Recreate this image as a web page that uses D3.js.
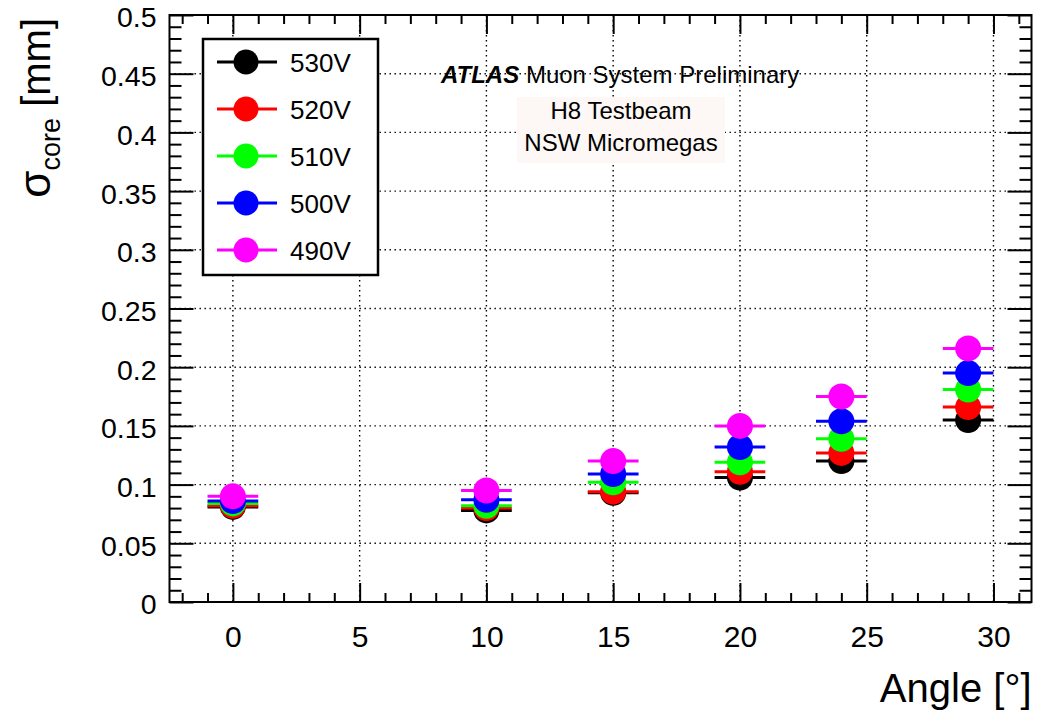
<!DOCTYPE html>
<html>
<head>
<meta charset="utf-8">
<script src="https://cdn.jsdelivr.net/npm/d3@7"></script>
<style>
  html, body { margin: 0; padding: 0; background: #fff; }
  svg { display: block; }
  text { font-family: "Liberation Sans", Arial, Helvetica, sans-serif; }
</style>
</head>
<body>
<svg id="chart" width="1039" height="712"></svg>
<script>
// ---------------- data ----------------
const angles = [0, 10, 15, 20, 24, 29];
const angleErr = [1, 1, 1, 1, 1, 1];
const seriesNames = ["530V", "520V", "510V", "500V", "490V"];
const seriesColors = ["#000000", "#ff0000", "#00ff00", "#0000ff", "#ff00ff"];
const sigma530 = [0.081, 0.078, 0.093, 0.106, 0.120, 0.155];
const sigma520 = [0.082, 0.080, 0.094, 0.111, 0.127, 0.166];
const sigma510 = [0.084, 0.082, 0.102, 0.119, 0.139, 0.181];
const sigma500 = [0.086, 0.087, 0.109, 0.132, 0.154, 0.195];
const sigma490 = [0.090, 0.095, 0.120, 0.150, 0.175, 0.216];
const seriesValues = [sigma530, sigma520, sigma510, sigma500, sigma490];

const xMajorTicks = [0, 5, 10, 15, 20, 25, 30];
const xTickLabels = ["0", "5", "10", "15", "20", "25", "30"];
const yMajorTicks = [0, 0.05, 0.1, 0.15, 0.2, 0.25, 0.3, 0.35, 0.4, 0.45, 0.5];
const yTickLabels = ["0", "0.05", "0.1", "0.15", "0.2", "0.25", "0.3", "0.35", "0.4", "0.45", "0.5"];
const xTitle = "Angle [°]";
const yTitleMain = "σ", yTitleSub = "core", yTitleUnit = " [mm]";
const atlasLabel = "ATLAS", atlasRest = " Muon System Preliminary";
const infoLines = ["H8 Testbeam", "NSW Micromegas"];

// ---------------- layout ----------------
const svg = d3.select("#chart");
const F = { left: 169.5, right: 1031.5, top: 15, bottom: 602 };
const x = d3.scaleLinear().domain([-2.5, 31.5]).range([F.left, F.right]);
const y = d3.scaleLinear().domain([0, 0.5]).range([F.bottom, F.top]);

const xMinor = d3.range(-2, 32, 1).filter(v => !xMajorTicks.includes(v));
const yMinor = d3.range(1, 50, 1).map(v => v / 100).filter(v => Math.round(v * 100) % 5 !== 0);

// grid
const grid = svg.append("g").attr("stroke", "#000").attr("stroke-width", 1.4)
  .attr("stroke-dasharray", "1.4,3.6");
grid.selectAll("line.gx").data(xMajorTicks).join("line")
  .attr("x1", d => x(d)).attr("x2", d => x(d)).attr("y1", F.top).attr("y2", F.bottom);
grid.selectAll("line.gy").data(yMajorTicks.filter(v => v > 0 && v < 0.5)).join("line")
  .attr("x1", F.left).attr("x2", F.right).attr("y1", d => y(d)).attr("y2", d => y(d));

// axes helper
function styleAxis(g) {
  g.select(".domain").remove();
  g.selectAll(".tick line").attr("stroke", "#000").attr("stroke-width", 2);
  g.selectAll("text").attr("fill", "#000").style("font-family", '"Liberation Sans", Arial, sans-serif');
}
// bottom
const gxB = svg.append("g").attr("transform", `translate(0,${F.bottom})`)
  .call(d3.axisBottom(x).tickValues(xMajorTicks).tickFormat((d, i) => xTickLabels[i])
    .tickSizeInner(-19).tickSizeOuter(0).tickPadding(24));
styleAxis(gxB); gxB.selectAll("text").style("font-size", "30px");
const gxBm = svg.append("g").attr("transform", `translate(0,${F.bottom})`)
  .call(d3.axisBottom(x).tickValues(xMinor).tickFormat("").tickSizeInner(-9).tickSizeOuter(0));
styleAxis(gxBm);
// top
const gxT = svg.append("g").attr("transform", `translate(0,${F.top})`)
  .call(d3.axisTop(x).tickValues(xMajorTicks).tickFormat("").tickSizeInner(-19).tickSizeOuter(0));
styleAxis(gxT);
const gxTm = svg.append("g").attr("transform", `translate(0,${F.top})`)
  .call(d3.axisTop(x).tickValues(xMinor).tickFormat("").tickSizeInner(-9).tickSizeOuter(0));
styleAxis(gxTm);
// left
const gyL = svg.append("g").attr("transform", `translate(${F.left},0)`)
  .call(d3.axisLeft(y).tickValues(yMajorTicks).tickFormat((d, i) => yTickLabels[i])
    .tickSizeInner(-24).tickSizeOuter(0).tickPadding(13));
styleAxis(gyL);
gyL.selectAll("text").style("font-size", "28.5px").attr("dy", "0.42em");
const gyLm = svg.append("g").attr("transform", `translate(${F.left},0)`)
  .call(d3.axisLeft(y).tickValues(yMinor).tickFormat("").tickSizeInner(-12).tickSizeOuter(0));
styleAxis(gyLm);
// right
const gyR = svg.append("g").attr("transform", `translate(${F.right},0)`)
  .call(d3.axisRight(y).tickValues(yMajorTicks).tickFormat("").tickSizeInner(-24).tickSizeOuter(0));
styleAxis(gyR);
const gyRm = svg.append("g").attr("transform", `translate(${F.right},0)`)
  .call(d3.axisRight(y).tickValues(yMinor).tickFormat("").tickSizeInner(-12).tickSizeOuter(0));
styleAxis(gyRm);

// frame
svg.append("rect").attr("x", F.left).attr("y", F.top)
  .attr("width", F.right - F.left).attr("height", F.bottom - F.top)
  .attr("fill", "none").attr("stroke", "#000").attr("stroke-width", 2);

// data series
const R = 13;
seriesValues.forEach((vals, si) => {
  const col = seriesColors[si];
  const g = svg.append("g");
  const pts = angles.map((a, i) => ({ a, e: angleErr[i], v: vals[i] }));
  g.selectAll("line").data(pts).join("line")
    .attr("x1", d => x(d.a - d.e)).attr("x2", d => x(d.a + d.e))
    .attr("y1", d => y(d.v)).attr("y2", d => y(d.v))
    .attr("stroke", col).attr("stroke-width", 3);
  g.selectAll("circle").data(pts).join("circle")
    .attr("cx", d => x(d.a)).attr("cy", d => y(d.v)).attr("r", R)
    .attr("fill", col);
});

// legend
const L = { x: 203, y: 39, w: 175, h: 236 };
const lg = svg.append("g");
lg.append("rect").attr("x", L.x).attr("y", L.y).attr("width", L.w).attr("height", L.h)
  .attr("fill", "#fff").attr("stroke", "#000").attr("stroke-width", 2.5);
const legOrder = [0, 1, 2, 3, 4];
legOrder.forEach((si, k) => {
  const cy = 62 + k * 47;
  lg.append("line").attr("x1", 217).attr("x2", 277).attr("y1", cy).attr("y2", cy)
    .attr("stroke", seriesColors[si]).attr("stroke-width", 3);
  lg.append("circle").attr("cx", 246).attr("cy", cy).attr("r", 12.5).attr("fill", seriesColors[si]);
  lg.append("text").attr("x", 290).attr("y", cy + 9.5).style("font-size", "26px")
    .attr("fill", "#000").text(seriesNames[si]);
});

// ATLAS label
const at = svg.append("text").attr("x", 441).attr("y", 83).style("font-size", "24px").attr("fill", "#000");
at.append("tspan").style("font-weight", "bold").style("font-style", "italic").text(atlasLabel);
at.append("tspan").text(atlasRest);

// info box
svg.append("rect").attr("x", 517).attr("y", 97).attr("width", 208).attr("height", 66)
  .attr("fill", "#fdf7f5");
infoLines.forEach((t, i) => {
  svg.append("text").attr("x", 621).attr("y", 119 + i * 32).attr("text-anchor", "middle")
    .style("font-size", "24px").attr("fill", "#000").text(t);
});

// axis titles
svg.append("text").attr("x", F.right).attr("y", 702).attr("text-anchor", "end")
  .style("font-size", "40px").attr("fill", "#000").text(xTitle);

const yt = svg.append("text").attr("transform", "translate(50,18) rotate(-90)")
  .attr("text-anchor", "end").attr("fill", "#000").style("font-size", "40px");
yt.append("tspan").style("font-size", "44px").text(yTitleMain);
yt.append("tspan").attr("dy", 10).style("font-size", "27px").text(yTitleSub);
yt.append("tspan").attr("dy", -10).text(yTitleUnit);
</script>
</body>
</html>
